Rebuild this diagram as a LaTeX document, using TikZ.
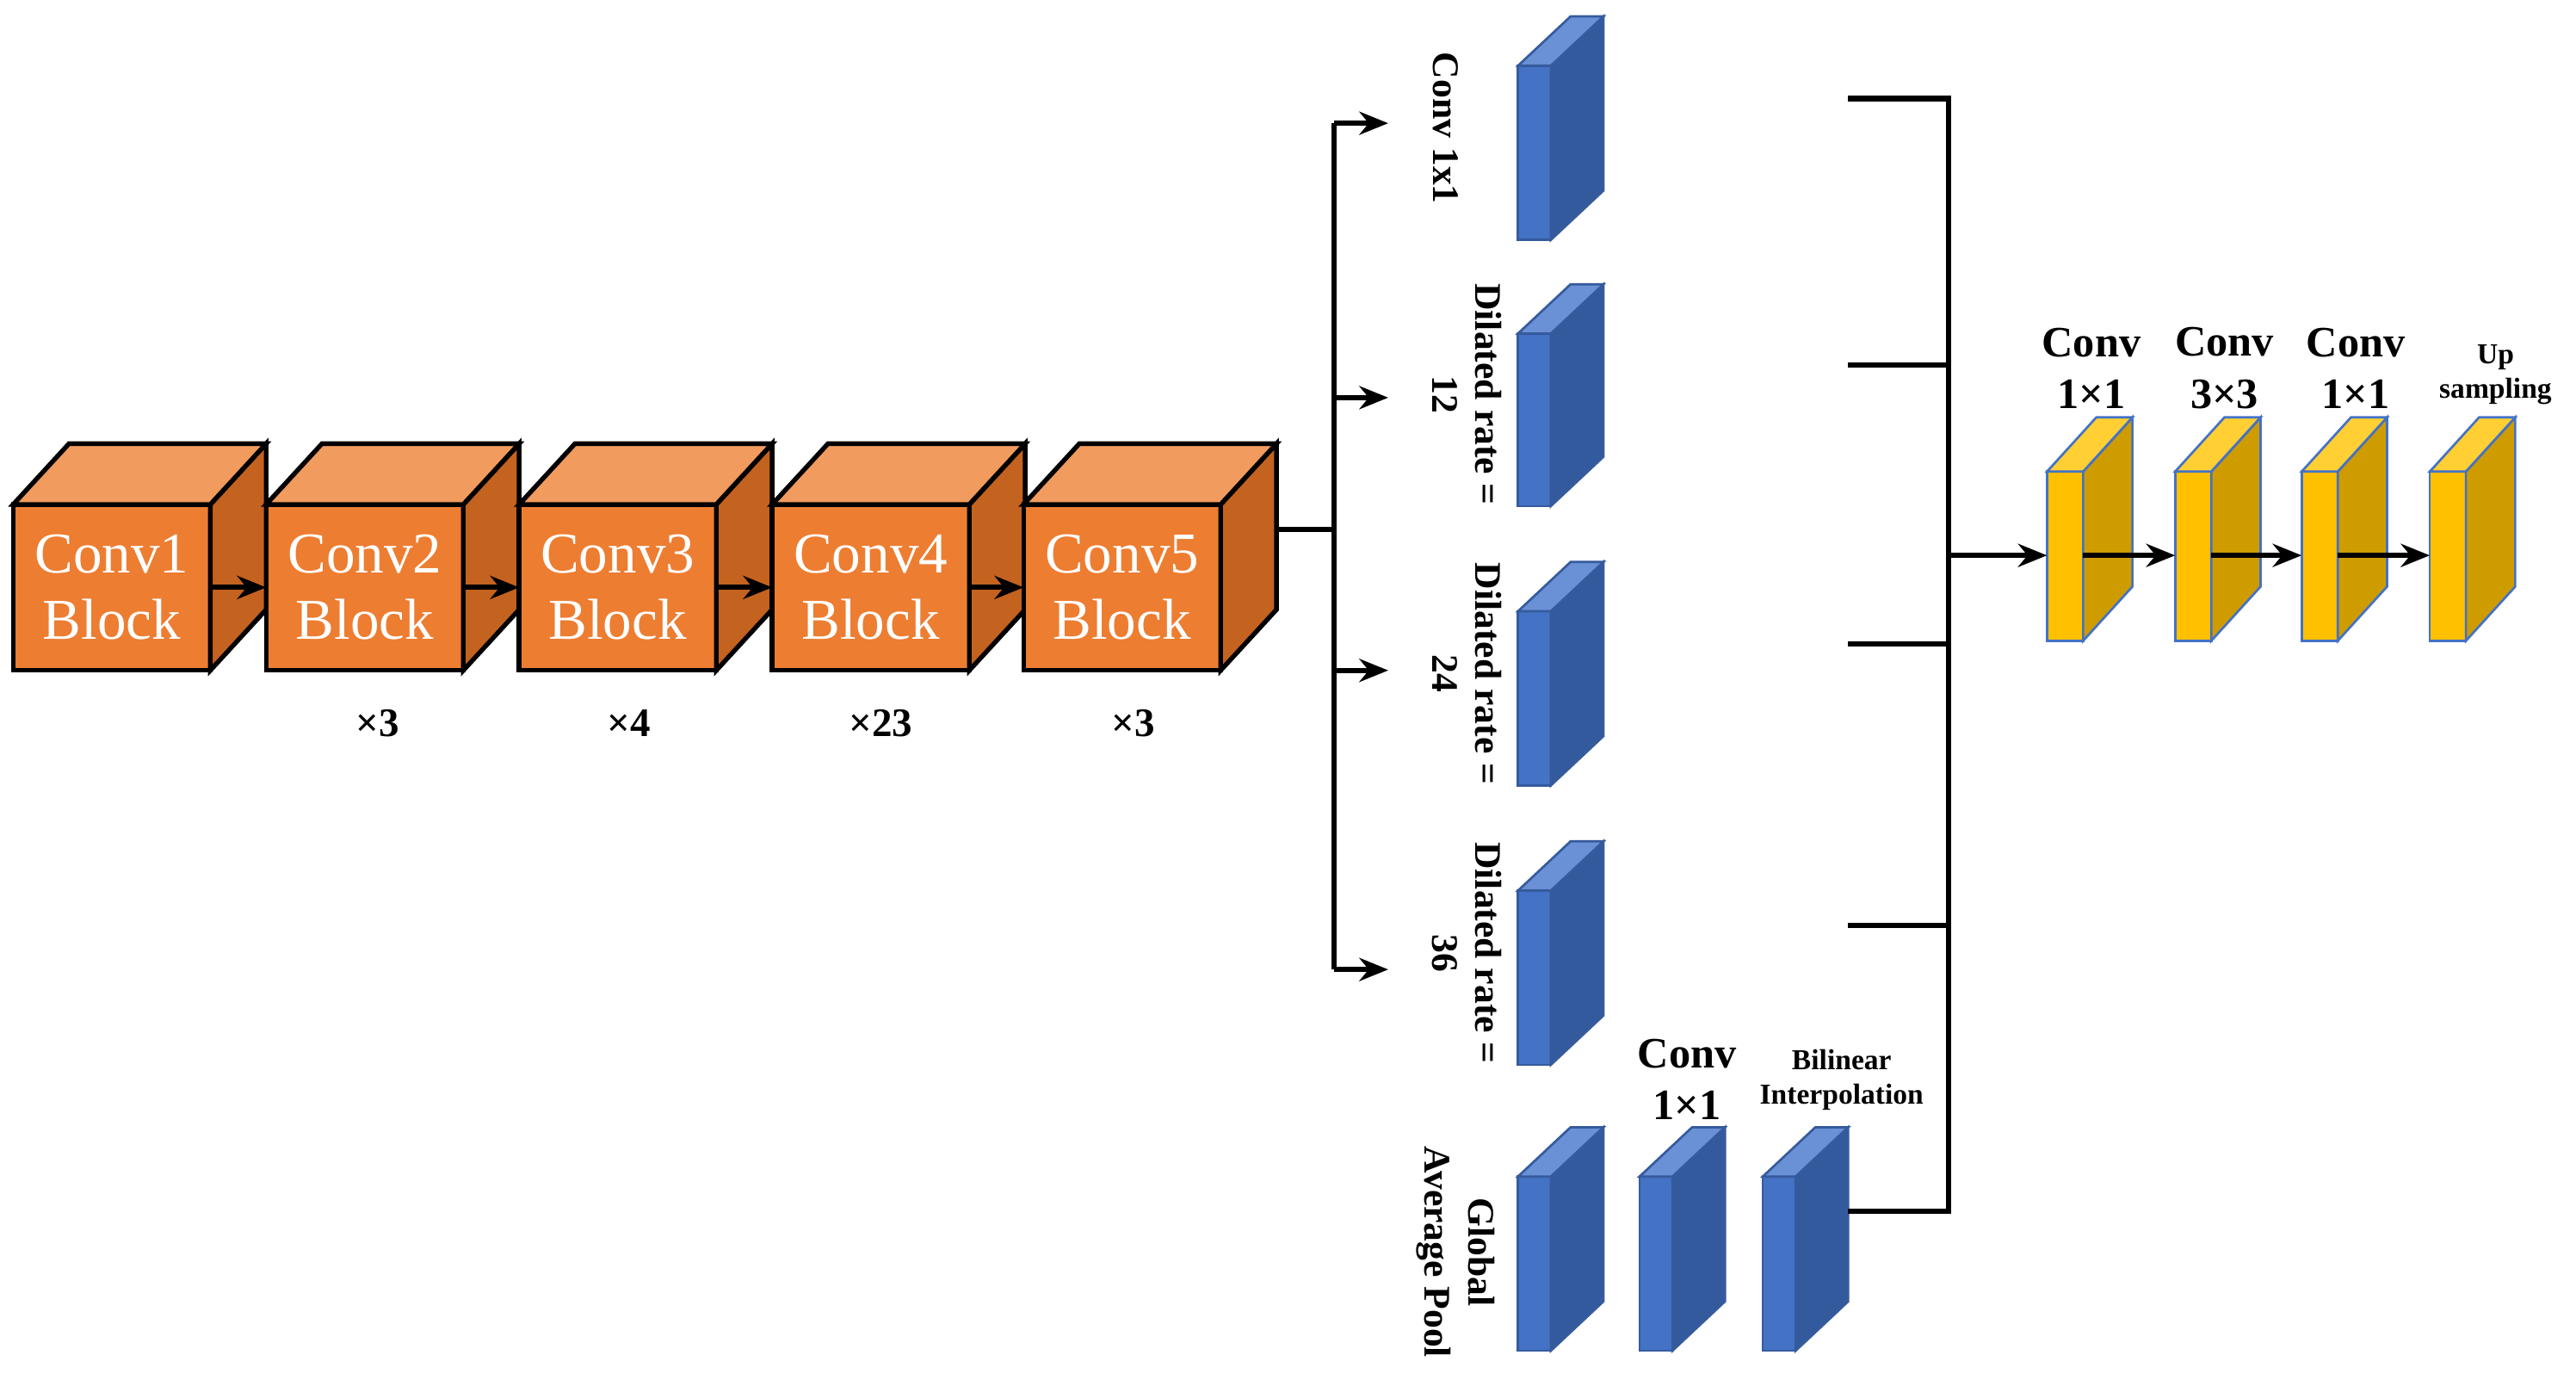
\documentclass[tikz,border=0pt]{standalone}
\usepackage{fontspec}
\setmainfont{Liberation Serif}
\usepackage{tikz}
\usetikzlibrary{arrows.meta,positioning}
\definecolor{ofront}{HTML}{ED7D31}
\definecolor{oside}{HTML}{C4621F}
\definecolor{otop}{HTML}{F19B5E}
\definecolor{bfront}{HTML}{4472C4}
\definecolor{bside}{HTML}{345A9E}
\definecolor{btop}{HTML}{6A90D6}
\definecolor{yfront}{HTML}{FFC000}
\definecolor{yside}{HTML}{CF9C00}
\definecolor{ytop}{HTML}{FFCF33}
\tikzset{
  orange front/.style={fill=ofront, draw=black, thick, text=white, font=\fontsize{10}{11.5}\selectfont, align=center},
  orange side/.style={fill=oside, draw=black, thick},
  orange top/.style={fill=otop, draw=black, thick},
  blue front/.style={fill=bfront, draw=bfront!80!black, thin},
  blue side/.style={fill=bside, draw=bfront!80!black, thin},
  blue top/.style={fill=btop, draw=bfront!80!black, thin},
  yellow front/.style={fill=yfront, draw=bfront, thin},
  yellow side/.style={fill=yside, draw=bfront, thin},
  yellow top/.style={fill=ytop, draw=bfront, thin},
  line/.style={line width=0.9pt},
  arr/.style={line width=0.9pt, -{Stealth[length=5pt,width=4pt]}},
  times/.style={font=\bfseries\fontsize{7}{8}\selectfont},
  rot/.style={rotate=-90, font=\bfseries\fontsize{6.5}{7.5}\selectfont, align=center},
  head/.style={font=\bfseries\fontsize{7.5}{9}\selectfont, align=center},
  small/.style={font=\bfseries\fontsize{5}{6}\selectfont, align=center}
}
% name, x, y, width, height, depth x, depth y, kind, text
\newcommand{\slab}[9]{%
  \node[#8 front, inner sep=0, outer sep=0, minimum width=#4*0.01cm, minimum height=#5*0.01cm, anchor=north west] (#1) at (#2,-#3) {#9};
  \filldraw[#8 side] (#1.north east) -- ++(#6,#7) -- ++(0,-#5) -- (#1.south east) -- cycle;
  \filldraw[#8 top] (#1.north west) -- ++(#6,#7) -- ++(#4,0) -- (#1.north east) -- cycle;
}
\begin{document}
\begin{tikzpicture}[x=0.01cm, y=0.01cm]
  \useasboundingbox (0,0) rectangle (1568,-843);

  % backbone
  \slab{c1}{8}{307}{120}{101}{34}{37}{orange}{Conv1\\Block}
  \slab{c2}{162}{307}{120}{101}{34}{37}{orange}{Conv2\\Block}
  \slab{c3}{316}{307}{120}{101}{34}{37}{orange}{Conv3\\Block}
  \slab{c4}{470}{307}{120}{101}{34}{37}{orange}{Conv4\\Block}
  \slab{c5}{623}{307}{120}{101}{34}{37}{orange}{Conv5\\Block}
  \draw[arr] (c1.east) -- (c2.west);
  \draw[arr] (c2.east) -- (c3.west);
  \draw[arr] (c3.east) -- (c4.west);
  \draw[arr] (c4.east) -- (c5.west);
  \node[times] (n2) at (230,-440) {×3};
  \node[times] (n3) at (383,-440) {×4};
  \node[times] (n4) at (536,-440) {×23};
  \node[times] (n5) at (690,-440) {×3};

  % ASPP branches
  \coordinate (c5out) at (777,-322);
  \coordinate (split) at (812,-322);
  \coordinate (s1) at (812,-75);
  \coordinate (s4) at (812,-590);
  \coordinate (t1) at (845,-75);
  \coordinate (t2) at (845,-242);
  \coordinate (t3) at (845,-408);
  \coordinate (t4) at (845,-590);
  \draw[line] (c5out) -- (split);
  \draw[line] (s1) -- (s4);
  \draw[arr] (s1) -- (t1);
  \draw[arr] (split |- t2) -- (t2);
  \draw[arr] (split |- t3) -- (t3);
  \draw[arr] (s4) -- (t4);

  \slab{a1}{924}{40}{20}{106}{32}{30}{blue}{}
  \slab{a2}{924}{203}{20}{105}{32}{30}{blue}{}
  \slab{a3}{924}{372}{20}{106}{32}{30}{blue}{}
  \slab{a4}{924}{542}{20}{106}{32}{30}{blue}{}
  \slab{p1}{924}{716}{20}{106}{32}{30}{blue}{}
  \slab{p2}{998}{716}{20}{106}{32}{30}{blue}{}
  \slab{p3}{1073}{716}{20}{106}{32}{30}{blue}{}

  \node[rot] (l1) at (880,-78) {Conv 1x1};
  \node[rot] (l2) at (893,-240) {Dilated rate =\\12};
  \node[rot] (l3) at (893,-410) {Dilated rate =\\24};
  \node[rot] (l4) at (893,-580) {Dilated rate =\\36};
  \node[rot] (l5) at (886,-762) {Global\\Average Pool};
  \node[head] (l6) at (1027,-657) {Conv\\1×1};
  \node[small] (l7) at (1121,-657) {Bilinear\\Interpolation};

  % concatenation
  \coordinate (m1) at (1125,-60);
  \coordinate (m2) at (1125,-222);
  \coordinate (m3) at (1125,-392);
  \coordinate (m4) at (1125,-563);
  \coordinate (m5) at (1125,-737);
  \coordinate (j1) at (1186,-60);
  \coordinate (j5) at (1186,-737);
  \coordinate (join) at (1186,-338);
  \draw[line] (m1) -- (j1) -- (j5) -- (m5);
  \draw[line] (m2) -- (j1 |- m2);
  \draw[line] (m3) -- (j1 |- m3);
  \draw[line] (m4) -- (j1 |- m4);

  % decoder
  \slab{d1}{1246}{287}{22}{103}{30}{33}{yellow}{}
  \slab{d2}{1324}{287}{22}{103}{30}{33}{yellow}{}
  \slab{d3}{1401}{287}{22}{103}{30}{33}{yellow}{}
  \slab{d4}{1479}{287}{22}{103}{30}{33}{yellow}{}
  \draw[arr] (join) -- (d1.west |- join);
  \draw[arr] (d1.east |- join) -- (d2.west |- join);
  \draw[arr] (d2.east |- join) -- (d3.west |- join);
  \draw[arr] (d3.east |- join) -- (d4.west |- join);
  \node[head] (h1) at (1273,-224) {Conv\\1×1};
  \node[head] (h2) at (1354,-224) {Conv\\3×3};
  \node[head] (h3) at (1434,-224) {Conv\\1×1};
  \node[small] (h4) at (1519,-228) {Up\\sampling};
\end{tikzpicture}
\end{document}
